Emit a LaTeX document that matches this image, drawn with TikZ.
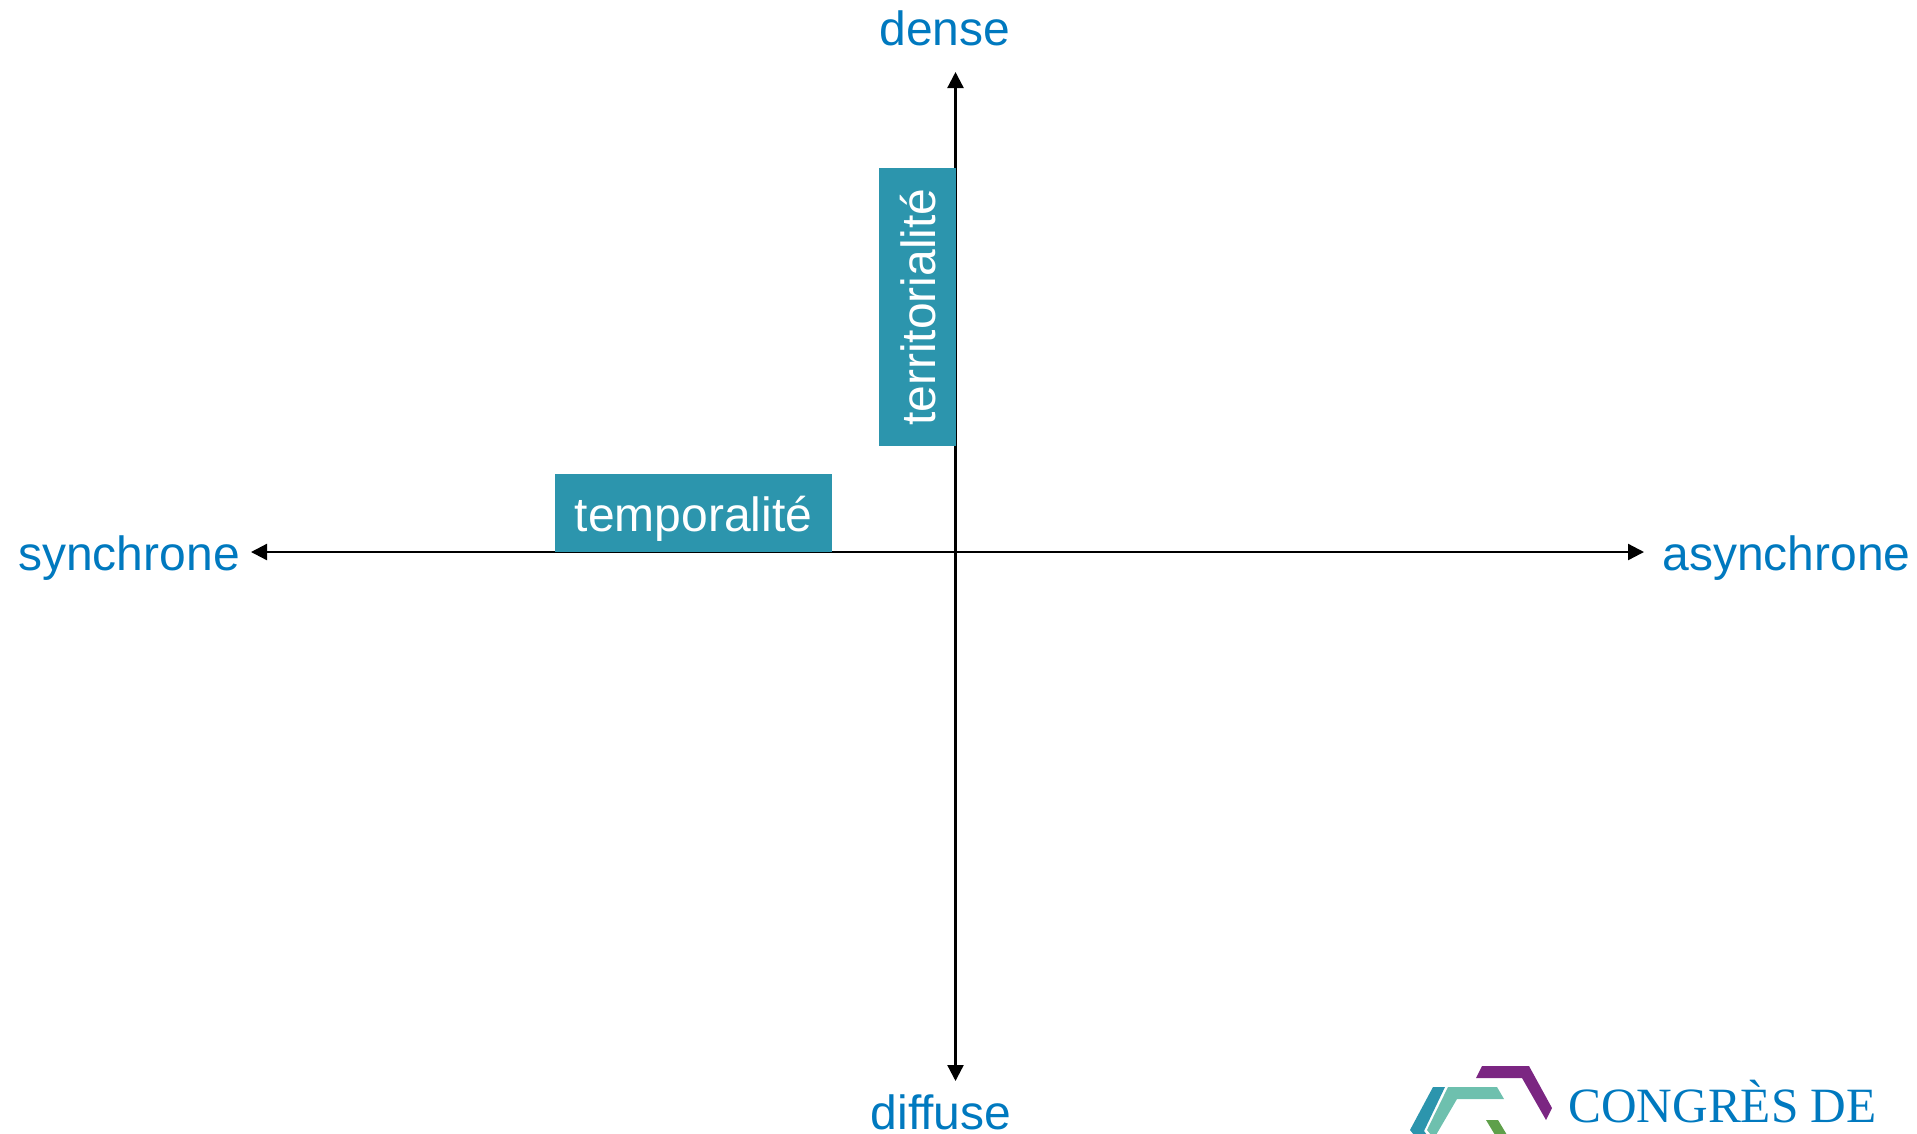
\documentclass[tikz,border=0pt]{standalone}
\usepackage{fontspec}
\setmainfont{Liberation Sans}
\newfontfamily\logofont{Liberation Serif}
\usetikzlibrary{arrows.meta}
\definecolor{axislabel}{HTML}{0079BF}
\definecolor{boxteal}{HTML}{2C95AD}
\definecolor{logopurple}{HTML}{7B2682}
\definecolor{logoteal}{HTML}{2C95AD}
\definecolor{logomint}{HTML}{6EC0AE}
\definecolor{logogreen}{HTML}{5FA04A}
\tikzset{
  axislabel/.style={text=axislabel,font=\fontsize{36}{40}\selectfont,anchor=base,inner sep=0pt},
  axisline/.style={draw=black,line width=1.7pt,{Triangle[length=12pt,width=12pt]}-{Triangle[length=12pt,width=12pt]}},
  tagbox/.style={fill=boxteal,text=white,font=\fontsize{36}{40}\selectfont,inner sep=0pt,minimum width=208pt},
}
\begin{document}
\begin{tikzpicture}[x=0.75pt,y=-0.75pt]
\clip (0,0) rectangle (1917,1133);

\coordinate (west) at (251,552);
\coordinate (east) at (1644,552);
\coordinate (north) at (955.5,72);
\coordinate (south) at (955.5,1081);

\path[axisline] (west) -- (east);
\path[axisline] (south) -- (north);

\node[tagbox,text height=43.2pt,text depth=15.3pt] (temporal) at (693.5,513) {temporalité};
\node[tagbox,rotate=90,text height=42.4pt,text depth=15pt] (territorial) at (917.25,307) {territorialité};

\node[axislabel] (dense) at (945,45) {dense};
\node[axislabel] (diffuse) at (941,1129) {diffuse};
\node[axislabel] (synchrone) at (129,570.5) {synchrone};
\node[axislabel] (asynchrone) at (1786.5,570.5) {asynchrone};

% logo
\fill[logopurple] (1482,1066) -- (1529,1066) -- (1552,1108) -- (1546,1120) -- (1522,1078) -- (1476,1078) -- cycle;
\fill[logoteal] (1433,1087) -- (1445,1087) -- (1424,1131) -- (1427,1135) -- (1414,1135) -- (1410,1130) -- cycle;
\fill[logomint] (1448,1087) -- (1497,1087) -- (1504,1099) -- (1457,1099) -- (1436,1135) -- (1431,1135) -- (1427,1130) -- cycle;
\fill[logogreen] (1486,1120) -- (1498,1120) -- (1507,1135) -- (1495,1135) -- cycle;
\node[anchor=base west,inner sep=0pt,text=axislabel,font=\logofont\fontsize{37}{40}\selectfont] (congres) at (1568,1122) {CONGRÈS DE};
\end{tikzpicture}
\end{document}
